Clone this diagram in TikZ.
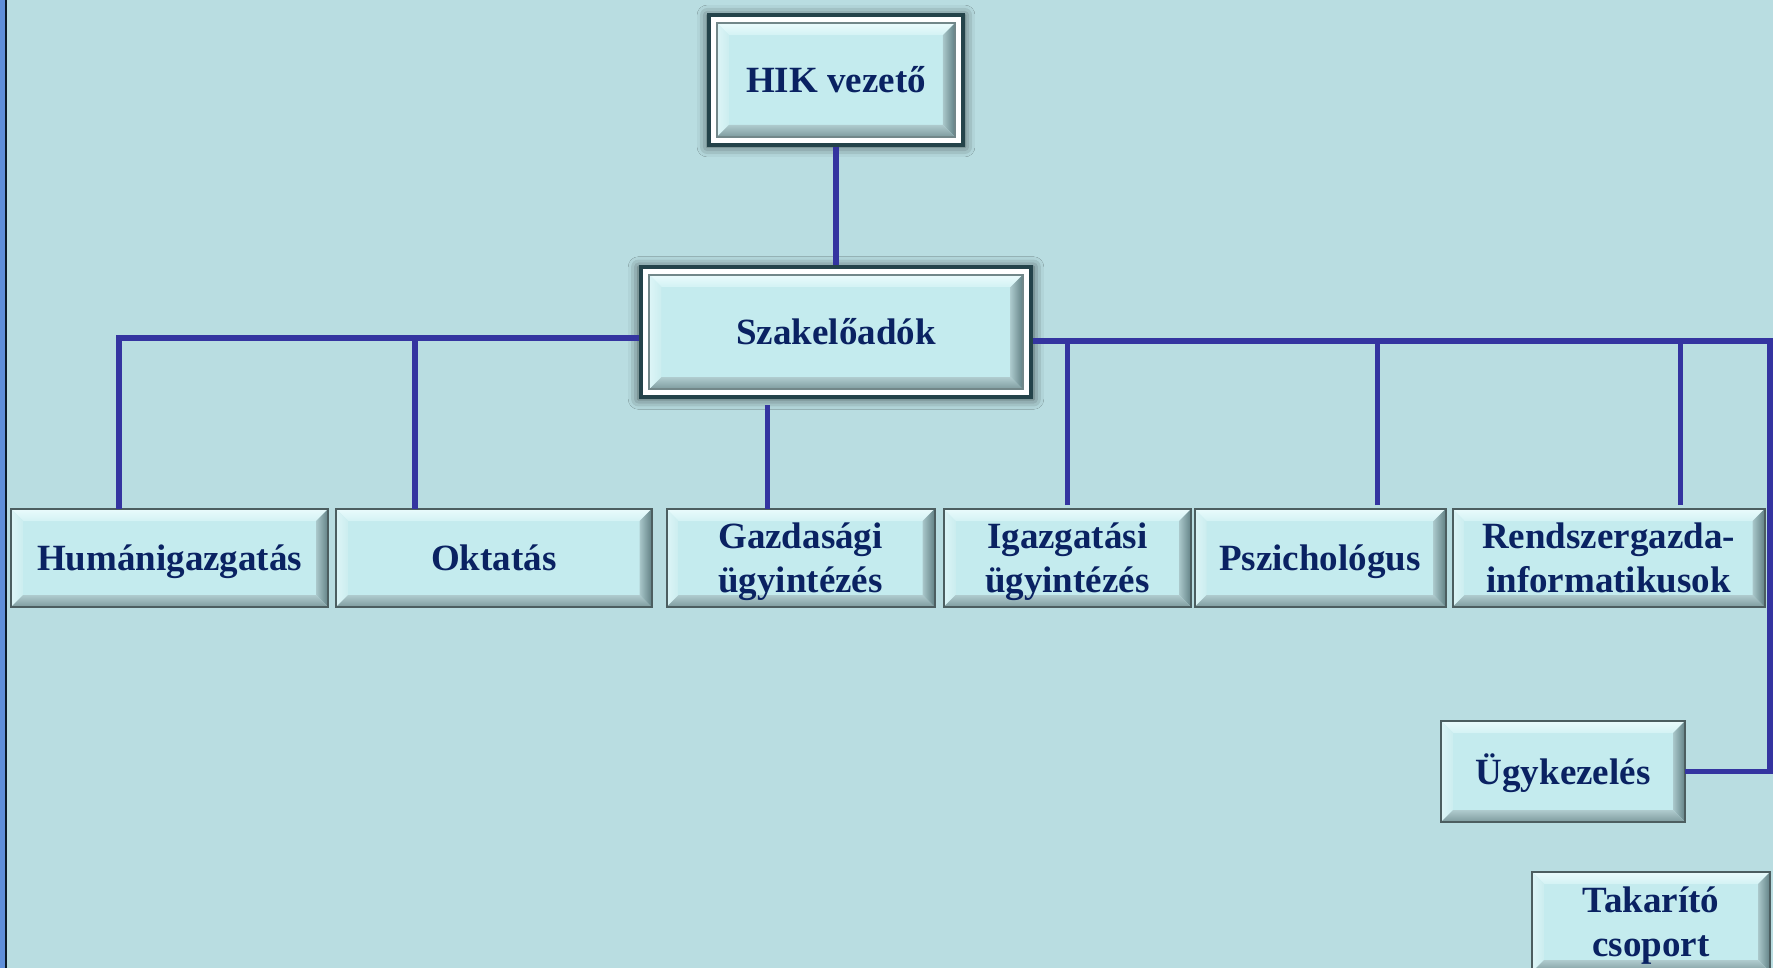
\documentclass[tikz,border=0pt]{standalone}
\usepackage{fontspec}
\setmainfont{Liberation Serif}
\usepackage{xcolor}
\definecolor{cBack}    {HTML}{B9DDE1}
\definecolor{cStrip}   {HTML}{5F8FDA}
\definecolor{cStripDk} {HTML}{0B1B2B}
\definecolor{cLine}    {HTML}{3434A0}
\definecolor{cInk}     {HTML}{0A2262}
\definecolor{cFace}    {HTML}{C4EBEE}
\definecolor{cEdge}    {HTML}{4C5E60}
\definecolor{cEdgeLt}  {HTML}{728789}
\definecolor{cFrame}   {HTML}{24434A}
\definecolor{cBvTopA}  {HTML}{EAFBFC}
\definecolor{cBvTopB}  {HTML}{D3F2F4}
\definecolor{cBvLeftA} {HTML}{DDF5F7}
\definecolor{cBvLeftB} {HTML}{CBEDEF}
\definecolor{cBvRightA}{HTML}{A9C7CA}
\definecolor{cBvRightB}{HTML}{628185}
\definecolor{cBvBotA}  {HTML}{AFCBCE}
\definecolor{cBvBotB}  {HTML}{7E9B9E}
\usepackage{tikz}
\usetikzlibrary{positioning, shadows.blur}

\newcommand{\bvW}{6pt}
\newcommand{\topstrut}{\rule{0pt}{17.5pt}}
\newcommand{\botstrut}{\rule[-5pt]{0pt}{5pt}}
% bevelled face, #1 = inset from the node border
\newcommand{\bevelpic}[1]{%
  \coordinate (bvNW) at ([shift={(#1,-#1)}]path picture bounding box.north west);
  \coordinate (bvNE) at ([shift={(-#1,-#1)}]path picture bounding box.north east);
  \coordinate (bvSE) at ([shift={(-#1,#1)}]path picture bounding box.south east);
  \coordinate (bvSW) at ([shift={(#1,#1)}]path picture bounding box.south west);
  \fill[cFace] (bvNW) rectangle (bvSE);
  \shade[top color=cBvTopA, bottom color=cBvTopB]
    (bvNW) -- (bvNE) -- ([shift={(-\bvW,-\bvW)}]bvNE) -- ([shift={(\bvW,-\bvW)}]bvNW) -- cycle;
  \shade[left color=cBvLeftA, right color=cBvLeftB]
    (bvNW) -- ([shift={(\bvW,-\bvW)}]bvNW) -- ([shift={(\bvW,\bvW)}]bvSW) -- (bvSW) -- cycle;
  \shade[left color=cBvRightA, right color=cBvRightB]
    (bvNE) -- (bvSE) -- ([shift={(-\bvW,\bvW)}]bvSE) -- ([shift={(-\bvW,-\bvW)}]bvNE) -- cycle;
  \shade[top color=cBvBotA, bottom color=cBvBotB]
    (bvSW) -- (bvSE) -- ([shift={(-\bvW,\bvW)}]bvSE) -- ([shift={(\bvW,\bvW)}]bvSW) -- cycle;
}

\tikzset{
  btn/.style  = {rectangle, draw=cEdge, line width=1pt,
                 minimum width=#1, minimum height=49pt,
                 inner sep=2pt, outer sep=0pt, align=center, text=cInk,
                 font=\fontsize{18.5pt}{22pt}\selectfont\bfseries,
                 execute at begin node=\topstrut, execute at end node=\botstrut,
                 path picture={\bevelpic{0pt}}},
  btn/.default = 150pt,
  head/.style = {rectangle, draw=cFrame, line width=2pt,
                 minimum width=#1, minimum height=64.8pt,
                 inner sep=2pt, outer sep=1pt, align=center, text=cInk,
                 font=\fontsize{18.5pt}{22pt}\selectfont\bfseries,
                 execute at begin node=\topstrut, execute at end node=\botstrut,
                 path picture={
                   \fill[white] (path picture bounding box.south west)
                     rectangle (path picture bounding box.north east);
                   \bevelpic{4pt}
                   \draw[cEdgeLt, line width=1pt] (bvNW) rectangle (bvSE);},
                 blur shadow={shadow xshift=0pt, shadow yshift=-0.5pt, shadow scale=1.015,
                              shadow blur radius=5pt, shadow opacity=65}},
  link/.style = {draw=cLine, line width=2.6pt},
}

\begin{document}
\begin{tikzpicture}[x=0.5pt, y=-0.5pt, node distance=4pt]

  \useasboundingbox (0,0) rectangle (1773,968);
  \clip (0,0) rectangle (1773,968);
  \fill[cBack] (0,0) rectangle (1773,968);
  \fill[cStrip] (0,0) rectangle (5,968);
  \fill[cStripDk] (5,0) rectangle (7,968);

  %% --- top of the tree ---
  \node[head=126.9pt] (hik) at (836,80) {HIK vezető};
  \node[head=194.7pt, minimum height=65.2pt, below=59pt of hik] (szak) {Szakelőadók};

  %% --- bottom row ---
  \node[btn=158.5pt] (human) at (169.6,558) {Humánigazgatás};
  \node[btn=157.7pt, right=4pt of human]   (okt)    {Oktatás};
  \node[btn=134pt,   right=7.5pt of okt]   (gazd)   {\topstrut Gazdasági\\ügyintézés};
  \node[btn=123.8pt, right=4.5pt of gazd]  (igazg)  {\topstrut Igazgatási\\ügyintézés};
  \node[btn=125.5pt, right=1.7pt of igazg] (pszich) {Pszichológus};
  \node[btn=156pt,   right=3.5pt of pszich] (rendsz) {\topstrut Rendszergazda-\\informatikusok};

  %% --- right column ---
  \node[btn=122pt, minimum height=50.5pt,
        below=57pt of rendsz, xshift=-22.7pt] (ugyk) {Ügykezelés};
  \node[btn=119pt, minimum height=50pt,
        below=25pt of ugyk, xshift=44pt]      (takar) {\topstrut Takarító\\csoport};

  %% --- Lines ---
  \coordinate (lturn) at (119,338);
  \coordinate (lokt)  at (415,338);
  \coordinate (rturn) at (1770,341);

  \draw[link] (hik.south) -- (szak.north);

  \draw[link] (szak.west |- lturn) -- (lturn) -- (human.north -| lturn);
  \draw[link] (lokt) -- (okt.north -| lokt);
  \draw[link] ([xshift=-16.5pt]gazd.north) -- ([xshift=-16.5pt, yshift=-3pt]gazd.north |- szak.south);

  \draw[link] (szak.east |- rturn) -- (rturn) |- (ugyk.east);
  \draw[link] ([yshift=2pt]igazg.north) -- (igazg.north |- rturn);
  \draw[link] ([xshift=28.75pt, yshift=2pt]pszich.north) -- ([xshift=28.75pt]pszich.north |- rturn);
  \draw[link] ([xshift=36pt, yshift=2pt]rendsz.north) -- ([xshift=36pt]rendsz.north |- rturn);

\end{tikzpicture}
\end{document}
